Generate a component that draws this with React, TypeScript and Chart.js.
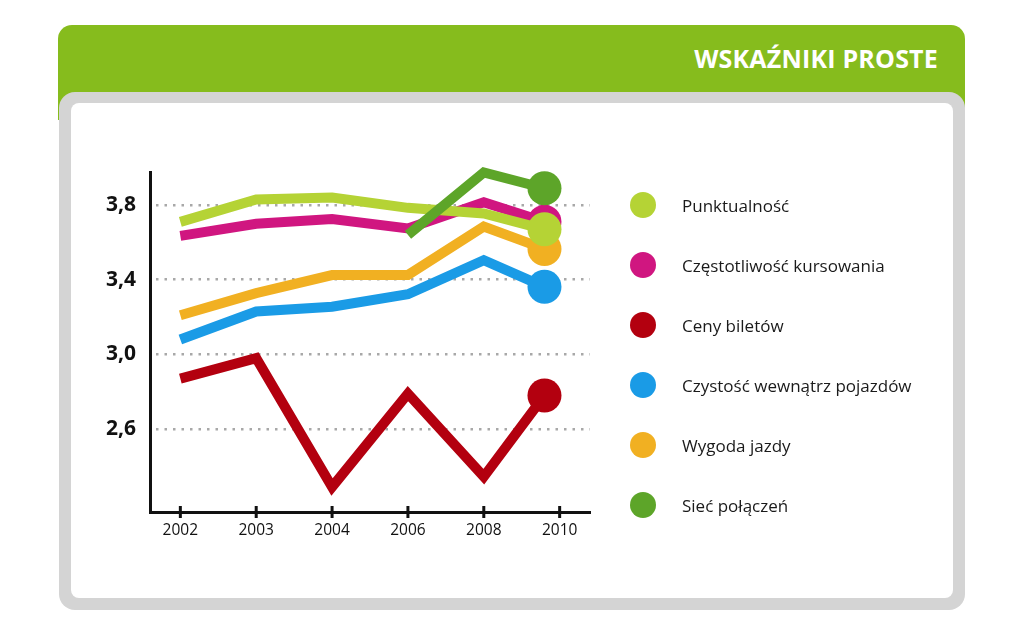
import React, { useEffect, useRef } from 'react';
import { Chart, registerables } from 'chart.js';

Chart.register(...registerables);

const yearLabels = ['2002', '2003', '2004', '2006', '2008', '2010'];
const pointSlots = [0, 1, 2, 3, 4, 4.8];
const seriesNames = [
  'Punktualność',
  'Częstotliwość kursowania',
  'Ceny biletów',
  'Czystość wewnątrz pojazdów',
  'Wygoda jazdy',
  'Sieć połączeń',
];
const seriesColors = ['#b5d335', '#d01680', '#b3000f', '#1a9be6', '#f1b022', '#5da529'];
const punktualnosc = [3.71, 3.83, 3.84, 3.785, 3.755, 3.67];
const czestotliwosc = [3.635, 3.70, 3.725, 3.675, 3.815, 3.71];
const cenyBiletow = [2.87, 2.98, 2.29, 2.79, 2.345, 2.78];
const czystosc = [3.08, 3.23, 3.255, 3.322, 3.505, 3.362];
const wygoda = [3.21, 3.328, 3.425, 3.425, 3.685, 3.565];
const siecPolaczen = [null, null, null, 3.64, 3.975, 3.89];
const seriesValues = [punktualnosc, czestotliwosc, cenyBiletow, czystosc, wygoda, siecPolaczen];
const drawOrder = [1, 3, 5, 4, 2, 0];
const yTickValues = [2.6, 3.0, 3.4, 3.8];
const yTickLabels = ['2,6', '3,0', '3,4', '3,8'];

const tickMarks = {
  id: 'tickMarks',
  afterDraw(chart: any) {
    const s = chart.scales.x;
    const y = chart.chartArea.bottom;
    const ctx = chart.ctx;
    ctx.save();
    ctx.strokeStyle = '#111';
    ctx.lineWidth = 3;
    s.ticks.forEach((_t: any, i: number) => {
      const px = s.getPixelForTick(i);
      ctx.beginPath();
      ctx.moveTo(px, y - 6);
      ctx.lineTo(px, y + 6);
      ctx.stroke();
    });
    ctx.restore();
  },
};

export default function App() {
  const ref = useRef<HTMLCanvasElement>(null);

  useEffect(() => {
    if (!ref.current) return;
    const last = pointSlots.length - 1;
    const datasets = seriesNames.map((name, i) => ({
      label: name,
      data: pointSlots.map((x, j) => ({ x, y: seriesValues[i][j] })),
      borderColor: seriesColors[i],
      backgroundColor: seriesColors[i],
      borderWidth: 10,
      borderJoinStyle: 'miter' as const,
      borderCapStyle: 'butt' as const,
      pointRadius: (c: any) => (c.dataIndex === last ? 17 : 0),
      pointHoverRadius: (c: any) => (c.dataIndex === last ? 17 : 0),
      pointBorderWidth: 0,
      tension: 0,
      spanGaps: false,
      clip: false as any,
      order: drawOrder[i],
    }));
    const chart = new Chart(ref.current, {
      type: 'line',
      data: { datasets },
      plugins: [tickMarks],
      options: {
        animation: false,
        responsive: false,
        events: [],
        layout: { padding: { left: 0, top: 172, right: 434, bottom: 83 } },
        plugins: { legend: { display: false }, tooltip: { enabled: false } },
        scales: {
          x: {
            type: 'linear',
            min: -0.4,
            max: 5.4,
            afterFit: (s: any) => { s.height = 40; },
            afterBuildTicks: (s: any) => { s.ticks = yearLabels.map((_l, i) => ({ value: i })); },
            grid: { display: false, drawTicks: false },
            border: { display: true, color: '#111', width: 3 },
            ticks: {
              padding: 9,
              color: '#111',
              font: { family: 'Open Sans', size: 15.5 },
              callback: (v: any) => yearLabels[v] ?? '',
            },
          },
          y: {
            type: 'linear',
            min: 2.156,
            max: 3.977,
            afterFit: (s: any) => { s.width = 150; },
            afterBuildTicks: (s: any) => { s.ticks = yTickValues.map((v) => ({ value: v })); },
            grid: { color: '#a8a8a8', lineWidth: 2.5, drawTicks: false },
            border: { display: true, color: '#111', width: 3, dash: [2.5, 6], dashOffset: -4 },
            ticks: {
              padding: 14,
              color: '#111',
              font: { family: 'Open Sans', size: 21, weight: 'bold' },
              callback: (v: any) => {
                const k = yTickValues.findIndex((t) => Math.abs(t - v) < 1e-6);
                return k >= 0 ? yTickLabels[k] : '';
              },
            },
          },
        },
      },
    });
    return () => chart.destroy();
  }, []);

  return (
    <div style={{ position: 'absolute', left: 0, top: 0, width: 1024, height: 635, background: '#fff', overflow: 'hidden', fontFamily: 'Open Sans' }}>
      <div style={{ position: 'absolute', left: 58, top: 25, width: 907, height: 95, background: '#86bc1d', borderRadius: '14px 14px 0 0' }} />
      <div style={{ position: 'absolute', right: 86, top: 40, height: 36, lineHeight: '36px', color: '#fff', fontWeight: 700, fontSize: 25, letterSpacing: 0.2, whiteSpace: 'nowrap' }}>
        WSKAŹNIKI PROSTE
      </div>
      <div style={{ position: 'absolute', left: 59, top: 92, width: 906, height: 518, background: '#d4d4d4', borderRadius: 16 }} />
      <div style={{ position: 'absolute', left: 71, top: 103, width: 882, height: 495, background: '#fff', borderRadius: 8 }} />
      <canvas ref={ref} width={1024} height={635} style={{ position: 'absolute', left: 0, top: 0 }} />
      {seriesNames.map((name, i) => (
        <div key={name} style={{ position: 'absolute', left: 630, top: 205 + i * 60 - 13, height: 26, display: 'flex', alignItems: 'center', whiteSpace: 'nowrap' }}>
          <div style={{ width: 26, height: 26, borderRadius: 13, background: seriesColors[i] }} />
          <span style={{ marginLeft: 26, fontSize: 17, color: '#1a1a1a' }}>{name}</span>
        </div>
      ))}
    </div>
  );
}
